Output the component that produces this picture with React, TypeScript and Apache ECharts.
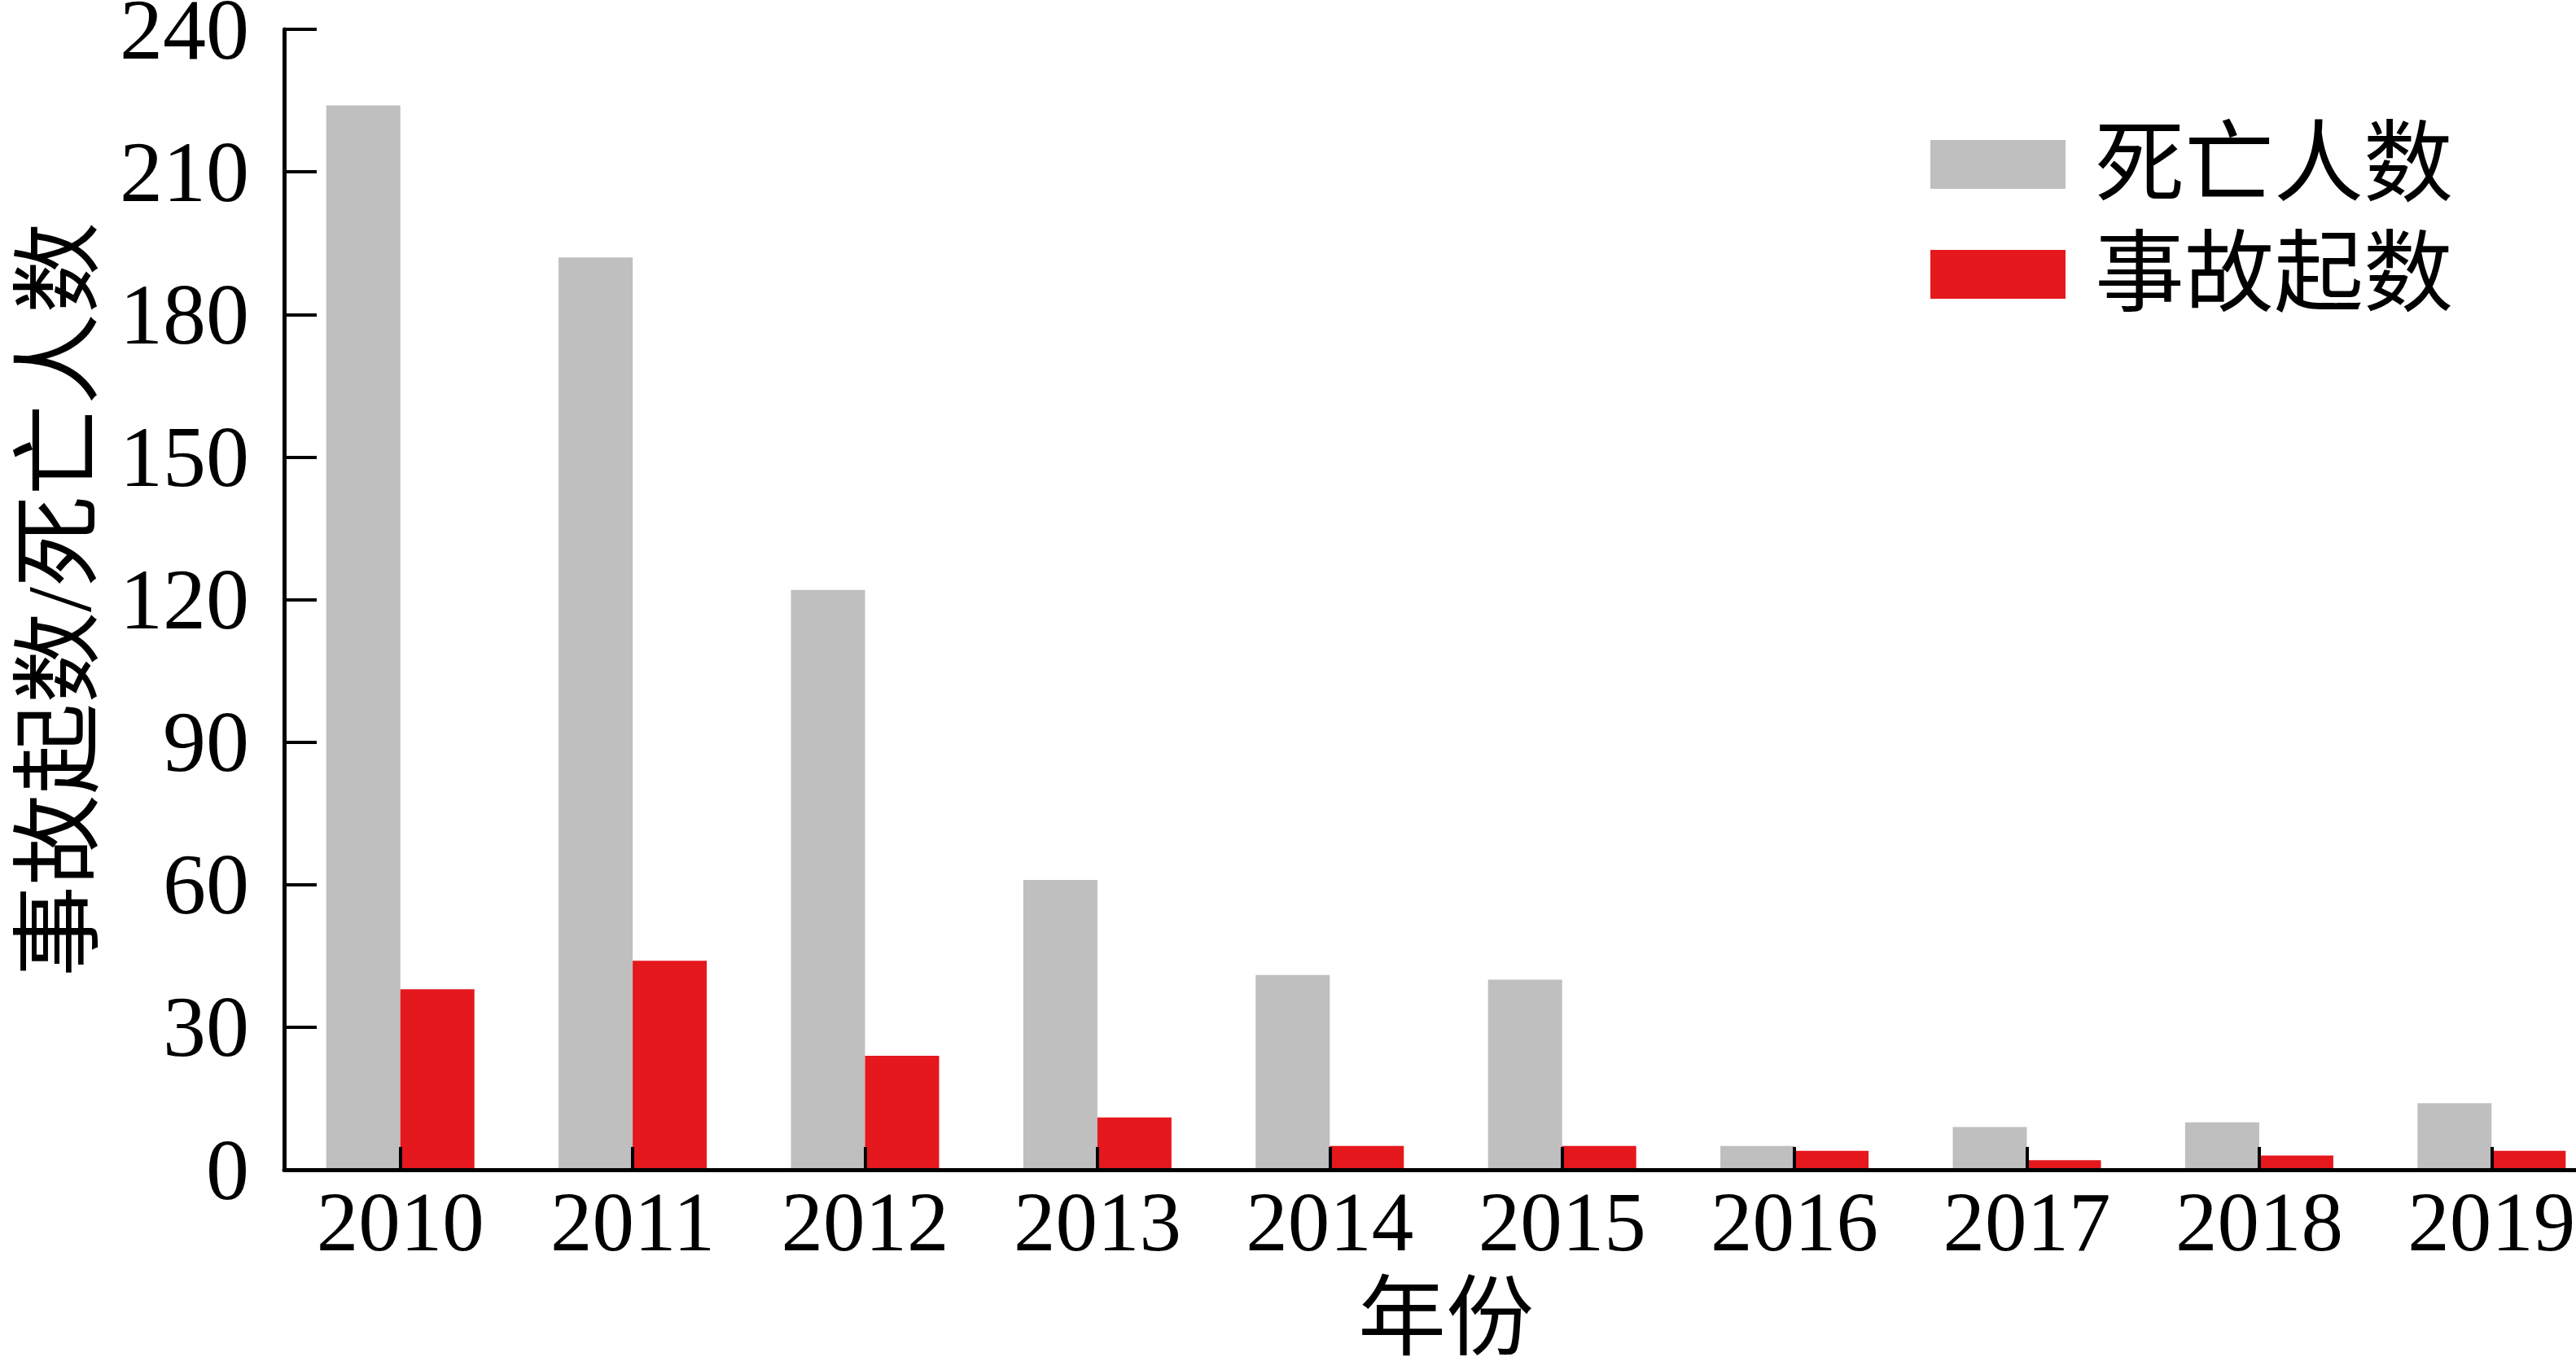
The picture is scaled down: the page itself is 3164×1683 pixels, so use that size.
import React, { useEffect, useRef } from "react";
import * as echarts from "echarts";

const years = ["2010", "2011", "2012", "2013", "2014", "2015", "2016", "2017", "2018", "2019"];
const deaths = [224, 192, 122, 61, 41, 40, 5, 9, 10, 14];
const accidents = [38, 44, 24, 11, 5, 5, 4, 2, 3, 4];
const seriesNames = ["死亡人数", "事故起数"];
const yMin = 0;
const yMax = 240;
const yInterval = 30;

const SERIF = "'Liberation Serif', 'Times New Roman', serif";
const CJK = "'Liberation Serif', 'Noto Sans CJK SC', serif";

export default function App() {
  const ref = useRef<HTMLDivElement>(null);
  useEffect(() => {
    document.body.style.margin = "0";
    document.body.style.background = "#ffffff";
    if (!ref.current) return;
    const chart = echarts.init(ref.current, null, { renderer: "svg" });
    chart.setOption({
      animation: false,
      backgroundColor: "#ffffff",
      grid: { left: 349, right: 17, top: 36, bottom: 246, containLabel: false, outerBoundsMode: "none" },
      legend: {
        data: seriesNames,
        orient: "vertical",
        left: 2371,
        top: 147,
        padding: 0,
        itemWidth: 166,
        itemHeight: 60,
        itemGap: 25,
        icon: "rect",
        textStyle: {
          fontFamily: CJK,
          fontSize: 110,
          lineHeight: 110,
          color: "#000",
          padding: [0, 0, 0, 31],
        },
      },
      xAxis: {
        type: "category",
        data: years,
        boundaryGap: true,
        z: 10,
        axisLine: { show: true, lineStyle: { color: "#000", width: 5 } },
        axisTick: { show: true, inside: true, alignWithLabel: true, length: 28, lineStyle: { color: "#000", width: 4 } },
        axisLabel: { color: "#000", fontFamily: SERIF, fontSize: 103, margin: 12, interval: 0, hideOverlap: false },
        name: "年份",
        nameLocation: "middle",
        nameGap: 128,
        nameTextStyle: { color: "#000", fontFamily: CJK, fontSize: 108, lineHeight: 108 },
        splitLine: { show: false },
      },
      yAxis: {
        type: "value",
        min: yMin,
        max: yMax,
        interval: yInterval,
        z: 10,
        axisLine: { show: true, lineStyle: { color: "#000", width: 5 } },
        axisTick: { show: true, inside: true, length: 40, lineStyle: { color: "#000", width: 4 } },
        axisLabel: { color: "#000", fontFamily: SERIF, fontSize: 106, lineHeight: 70, margin: 43 },
        splitLine: { show: false },
        name: "事故起数/死亡人数",
        nameLocation: "middle",
        nameGap: 220,
        nameTextStyle: { color: "#000", fontFamily: CJK, fontSize: 112 },
      },
      series: [
        {
          name: seriesNames[0],
          type: "bar",
          data: deaths,
          barWidth: 91,
          barGap: "0%",
          itemStyle: { color: "#BFBFBF" },
        },
        {
          name: seriesNames[1],
          type: "bar",
          data: accidents,
          barWidth: 91,
          barGap: "0%",
          itemStyle: { color: "#E5181E" },
        },
      ],
    });
    return () => chart.dispose();
  }, []);
  return (
    <div style={{ position: "absolute", left: 0, top: 0, width: 3164, height: 1683, overflow: "hidden" }}>
      <div ref={ref} style={{ width: 3220, height: 1683 }} />
    </div>
  );
}
